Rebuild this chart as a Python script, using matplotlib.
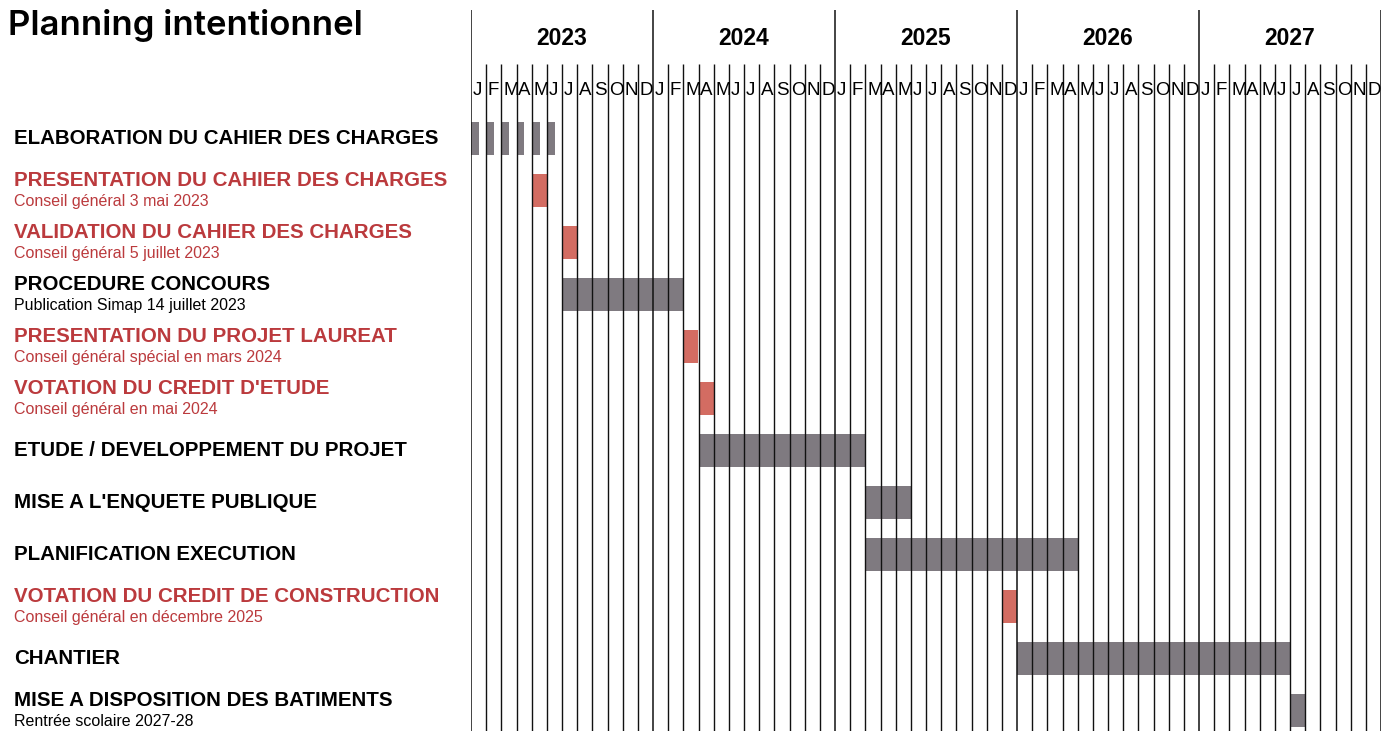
import matplotlib
matplotlib.use("Agg")
import matplotlib.pyplot as plt
from matplotlib.transforms import blended_transform_factory

# ---------------- data ----------------
years = ["2023", "2024", "2025", "2026", "2027"]
month_letters = ["J", "F", "M", "A", "M", "J", "J", "A", "S", "O", "N", "D"]

tasks = [
    "ELABORATION DU CAHIER DES CHARGES",
    "PRESENTATION DU CAHIER DES CHARGES",
    "VALIDATION DU CAHIER DES CHARGES",
    "PROCEDURE CONCOURS",
    "PRESENTATION DU PROJET LAUREAT",
    "VOTATION DU CREDIT D'ETUDE",
    "ETUDE / DEVELOPPEMENT DU PROJET",
    "MISE A L'ENQUETE PUBLIQUE",
    "PLANIFICATION EXECUTION",
    "VOTATION DU CREDIT DE CONSTRUCTION",
    "CHANTIER",
    "MISE A DISPOSITION DES BATIMENTS",
]
subtitles = [
    "",
    "Conseil général 3 mai 2023",
    "Conseil général 5 juillet 2023",
    "Publication Simap 14 juillet 2023",
    "Conseil général spécial en mars 2024",
    "Conseil général en mai 2024",
    "",
    "",
    "",
    "Conseil général en décembre 2025",
    "",
    "Rentrée scolaire 2027-28",
]
# start month index (0 = Jan 2023) and duration in months
starts = [0, 4, 6, 6, 14, 15, 15, 26, 26, 35, 36, 54]
durations = [6, 1, 1, 8, 1, 1, 11, 3, 14, 1, 18, 1]
is_decision = [False, True, True, False, True, True, False, False, False, True, False, False]
is_segmented = [True, False, False, False, False, False, False, False, False, False, False, False]

# ---------------- style ----------------
GRAY = "#7f7a80"
RED_BAR = "#d36c62"
RED_TXT = "#bb3a3d"

W, H = 1390, 731
fig = plt.figure(figsize=(W / 100, H / 100), dpi=100)
fig.patch.set_facecolor("white")

x0_px, x1_px = 471, 1381
n_months = 12 * len(years)
row0_px, row_step = 138, 52

ax = fig.add_axes([x0_px / W, 0, (x1_px - x0_px) / W, 1])
ax.set_xlim(0, n_months)
y_top = (0 - row0_px) / row_step
y_bot = (H - row0_px) / row_step
ax.set_ylim(y_bot, y_top)
ax.axis("off")

bar_h = 33 / row_step

for i, (s, d) in enumerate(zip(starts, durations)):
    col = RED_BAR if is_decision[i] else GRAY
    if is_segmented[i]:
        segs = [(m, 0.52) for m in range(s, s + d)]
        ax.broken_barh(segs, (i - bar_h / 2, bar_h), facecolors=col, zorder=1)
    else:
        ax.barh(i, d, left=s, height=bar_h, color=col, zorder=1)

# grid lines
month_top = (64 - row0_px) / row_step
year_top = (10 - row0_px) / row_step
for m in range(n_months + 1):
    if m % 12 == 0:
        ax.vlines(m, year_top, y_bot, color="#111111", lw=1.1, zorder=3)
    else:
        ax.vlines(m, month_top, y_bot, color="#111111", lw=1.0, zorder=3)

# year labels and month letters
year_y = (38 - row0_px) / row_step
month_y = (90 - row0_px) / row_step
for k, yr in enumerate(years):
    ax.text(12 * k + 6, year_y, yr, ha="center", va="center",
            fontsize=16.5, fontweight="bold", family="Liberation Sans", zorder=4)
    for j, ml in enumerate(month_letters):
        ax.text(12 * k + j + 0.12, month_y, ml, ha="left", va="center",
                fontsize=13.5, family="Liberation Sans", zorder=4)

# task labels
tr = blended_transform_factory(fig.transFigure, ax.transData)
lx = 14 / W
for i, name in enumerate(tasks):
    col = RED_TXT if is_decision[i] else "black"
    if subtitles[i]:
        ax.text(lx, i - 10 / row_step, name, transform=tr, ha="left", va="center",
                fontsize=14.8, fontweight="bold", family="Liberation Sans", color=col)
        ax.text(lx, i + 11 / row_step, subtitles[i], transform=tr, ha="left", va="center",
                fontsize=11.5, family="Liberation Sans", color=col)
    else:
        ax.text(lx, i, name, transform=tr, ha="left", va="center",
                fontsize=14.8, fontweight="bold", family="Liberation Sans", color=col)

fig.text(8 / W, 1 - 35 / H, "Planning intentionnel", ha="left", va="baseline",
         fontsize=25, fontweight="semibold", family=["Inter", "Roboto"], color="black")

fig.savefig("out.png", dpi=100, facecolor="white")
